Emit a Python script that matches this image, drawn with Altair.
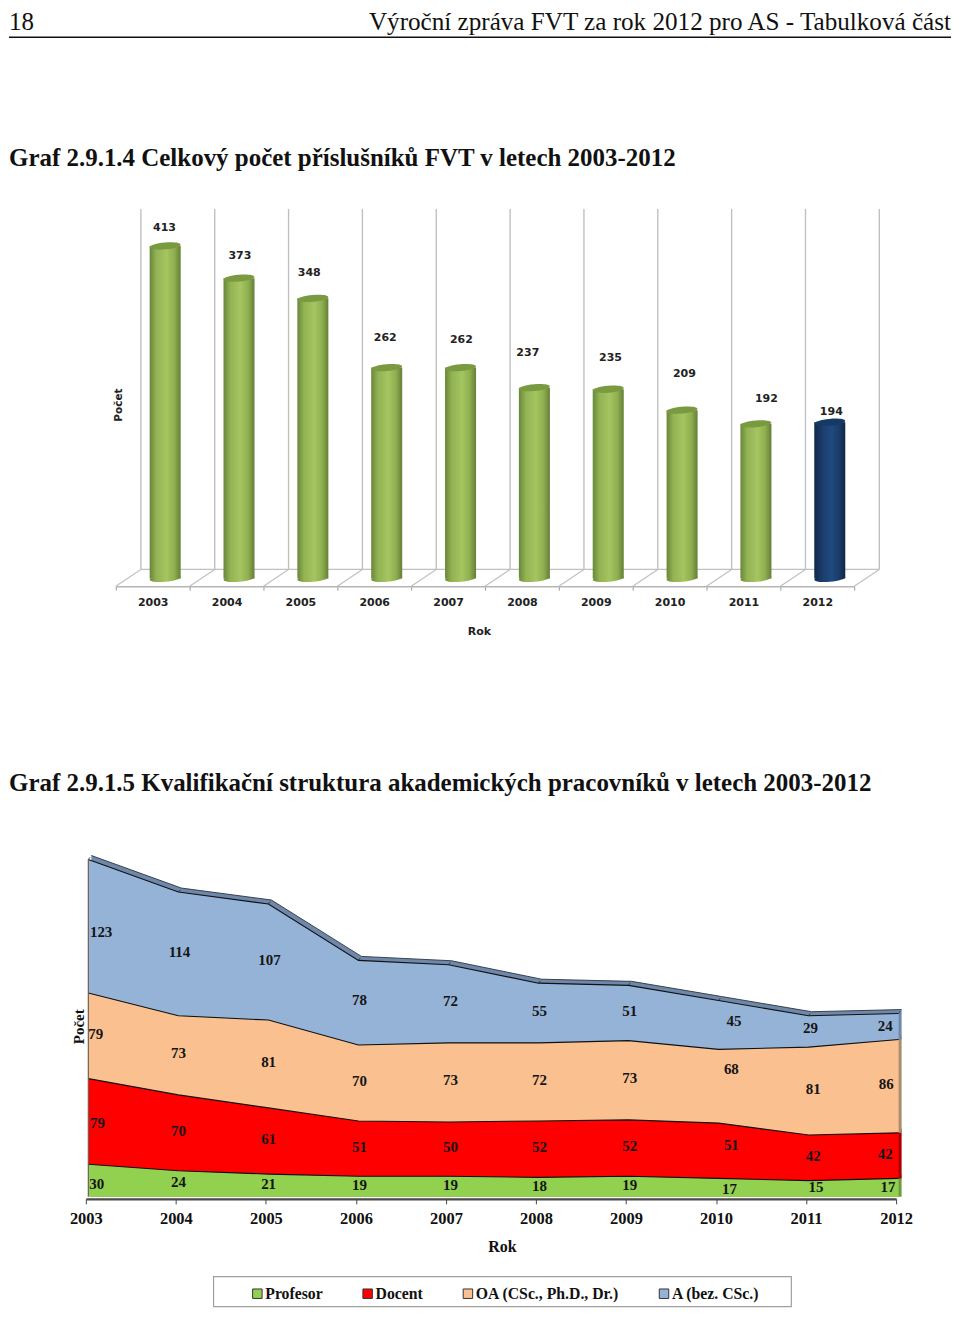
import altair as alt
import pandas as pd

years = [2003, 2004, 2005, 2006, 2007, 2008, 2009, 2010, 2011, 2012]
totals = [413, 373, 348, 262, 262, 237, 235, 209, 192, 194]
total_label_year = [2003.16, 2004.18, 2005.12, 2006.15, 2007.18, 2008.08, 2009.20, 2010.20, 2011.31, 2012.19]
total_label_level = [435, 400.4, 379.3, 298.7, 296.3, 280.1, 274, 254.1, 223.1, 207]
wall_back = [2002.84, 2003.84, 2004.84, 2005.84, 2006.84, 2007.84, 2008.84, 2009.84, 2010.84, 2011.84, 2012.84]
wall_front = [2002.5, 2003.5, 2004.5, 2005.5, 2006.5, 2007.5, 2008.5, 2009.5, 2010.5, 2011.5, 2012.5]

series = ["Profesor", "Docent", "OA (CSc., Ph.D., Dr.)", "A (bez. CSc.)"]
profesor = [30, 24, 21, 19, 19, 18, 19, 17, 15, 17]
docent = [79, 70, 61, 51, 50, 52, 52, 51, 42, 42]
oa = [79, 73, 81, 70, 73, 72, 73, 68, 81, 86]
a_bez = [123, 114, 107, 78, 72, 55, 51, 45, 29, 24]

lab_x_prof = [2003.12, 2004.03, 2005.03, 2006.04, 2007.05, 2008.04, 2009.04, 2010.15, 2011.11, 2011.91]
lab_y_prof = [12.0, 13.8, 12.0, 11.0, 11.0, 10.1, 11.0, 7.4, 9.2, 9.2]
lab_x_doc = [2003.13, 2004.03, 2005.03, 2006.04, 2007.05, 2008.04, 2009.04, 2010.17, 2011.08, 2011.88]
lab_y_doc = [68.1, 60.7, 53.4, 46.0, 46.0, 46.0, 46.9, 47.8, 37.7, 39.6]
lab_x_oa = [2003.11, 2004.03, 2005.03, 2006.04, 2007.05, 2008.04, 2009.04, 2010.17, 2011.08, 2011.89]
lab_y_oa = [150.0, 132.5, 124.2, 106.7, 107.6, 107.6, 109.5, 117.8, 99.4, 104.0]
lab_x_a = [2003.17, 2004.04, 2005.04, 2006.04, 2007.05, 2008.04, 2009.04, 2010.20, 2011.05, 2011.88]
lab_y_a = [243.8, 225.4, 218.0, 181.2, 180.3, 171.1, 171.1, 161.9, 155.5, 157.3]

area_colors = ["#92d050", "#ff0000", "#fac090", "#95b3d7"]
wall_colors = ["#6e9c3c", "#a80000", "#ab8d6c", "#6f88aa"]

PAGE_W = 944
SERIF = "Liberation Serif"
SANS = "DejaVu Sans"

# ---------- header panel ----------
def page_text(txt, x, y, size, bold=False, align="left"):
    return alt.Chart(pd.DataFrame({"t": [txt]})).mark_text(
        font=SERIF, fontSize=size, fontWeight="bold" if bold else "normal",
        align=align, baseline="middle", color="#111111"
    ).encode(text="t:N", x=alt.value(x), y=alt.value(y))

header_rule = alt.Chart(pd.DataFrame({"a": [0]})).mark_rule(color="#111111", strokeWidth=1.6).encode(
    x=alt.value(0), x2=alt.value(944), y=alt.value(28))
header = alt.layer(
    page_text("18", 0, 13, 25),
    page_text("Výroční zpráva FVT za rok 2012 pro AS - Tabulková část", 944, 13, 25.2, align="right"),
    header_rule,
    page_text("Graf 2.9.1.4 Celkový počet příslušníků FVT v letech 2003-2012", 0, 149, 25, bold=True),
).properties(width=PAGE_W, height=200)

# ---------- cylinders ----------
bars = pd.DataFrame({"year": years, "total": totals, "zero": [0] * 10,
                     "cx": [y + 0.169 for y in years],
                     "left": [y + 0.169 - 0.21 for y in years],
                     "right": [y + 0.169 + 0.21 for y in years],
                     "lx": total_label_year, "ly": total_label_level})
walls = pd.DataFrame({"back": wall_back, "front": wall_front})
xq1 = alt.Scale(domain=[2003, 2012], range=[144, 810])
y1 = alt.Scale(domain=[-9.6, 459], nice=False, zero=False)
y1_axis = alt.Axis(title="Počet", labels=False, ticks=False, domain=False, grid=False, titleFont=SANS,
                   titleFontSize=10.5, titleFontWeight="bold", titleColor="#222222", titleX=110, titleY=196,
                   titleAlign="center", titleBaseline="middle")
H1 = 378
FLOOR_BACK = 11.2
CAP = "M-1,0A1,0.22,0,1,1,1,0A1,0.22,0,1,1,-1,0Z"

def grad(stops):
    return alt.LinearGradient(gradient="linear", x1=0, x2=1, y1=0, y2=0,
                              stops=[alt.GradientStop(offset=o, color=c) for o, c in stops])

green = grad([(0, "#68873a"), (0.22, "#93b354"), (0.55, "#a4c560"), (0.8, "#8fae50"), (1, "#637f36")])
navy = grad([(0, "#10294b"), (0.3, "#1c3f6e"), (0.55, "#1f4a80"), (0.8, "#1a3c69"), (1, "#0f2646")])

def cyl(df, fill, cap):
    X = alt.X("cx:Q", scale=xq1, axis=None)
    Y = alt.Y("total:Q", scale=y1, axis=y1_axis)
    Y0 = alt.Y("zero:Q", scale=y1, axis=y1_axis)
    return [
        alt.Chart(df).mark_point(shape=CAP, size=961, filled=True, fill=fill, opacity=1, angle=355).encode(x=X, y=Y0),
        alt.Chart(df).mark_bar(fill=fill).encode(x=alt.X("left:Q", scale=xq1, axis=None), x2="right:Q", y=Y, y2="zero:Q"),
        alt.Chart(df).mark_point(shape=CAP, size=961, filled=True, fill=cap, opacity=1, angle=355).encode(x=X, y=Y),
    ]

carrier = alt.Chart(bars).mark_rule(opacity=0).encode(
    x=alt.X("year:O", scale=alt.Scale(range=[107, 847], paddingInner=0, paddingOuter=0),
            axis=alt.Axis(title="Rok", labelAngle=0, tickBand="extent", domainColor="#b5b5b5", tickColor="#9a9a9a",
                          tickSize=4, labelFont=SANS, labelFontSize=11, labelFontWeight="bold", labelColor="#222222",
                          labelPadding=6, titleFont=SANS, titleFontSize=11, titleFontWeight="bold", titleColor="#222222",
                          titleX=471, titleY=39, domainWidth=1.5)),
    y=alt.Y("total:Q", scale=y1, axis=y1_axis),
)
wall_rules = alt.Chart(walls.assign(top=459, bot=FLOOR_BACK)).mark_rule(color="#c0c0c0", strokeWidth=1.4).encode(
    x=alt.X("back:Q", scale=xq1, axis=None), y=alt.Y("top:Q", scale=y1, axis=y1_axis), y2="bot:Q")
slants = alt.Chart(walls.assign(a=FLOOR_BACK, b=-9.6)).mark_rule(color="#c0c0c0", strokeWidth=1.2).encode(
    x=alt.X("back:Q", scale=xq1, axis=None), x2="front:Q", y=alt.Y("a:Q", scale=y1, axis=y1_axis), y2="b:Q")
back_line = alt.Chart(pd.DataFrame({"a": [wall_back[0]], "b": [wall_back[-1]], "l": [FLOOR_BACK]})).mark_rule(
    color="#c0c0c0", strokeWidth=1.2).encode(
    x=alt.X("a:Q", scale=xq1, axis=None), x2="b:Q", y=alt.Y("l:Q", scale=y1, axis=y1_axis))
total_labels = alt.Chart(bars).mark_text(font=SANS, fontSize=11, fontWeight="bold", color="#222222").encode(
    x=alt.X("lx:Q", scale=xq1, axis=None), y=alt.Y("ly:Q", scale=y1, axis=y1_axis), text="total:Q")

chart1 = alt.layer(
    carrier, wall_rules, slants, back_line,
    *cyl(bars[bars.year < 2012], green, "#7a9a42"),
    *cyl(bars[bars.year == 2012], navy, "#163a66"),
    total_labels,
).resolve_scale(x="independent").properties(width=PAGE_W, height=H1)

# ---------- stacked areas ----------
xq2 = alt.Scale(domain=[2003, 2012], range=[77, 889])
y2s = alt.Scale(domain=[-1.84, 563], nice=False, zero=False)
H2 = 614
rows = []
for i, (s, vals, lx, ly) in enumerate(zip(
        series, [profesor, docent, oa, a_bez],
        [lab_x_prof, lab_x_doc, lab_x_oa, lab_x_a], [lab_y_prof, lab_y_doc, lab_y_oa, lab_y_a])):
    prev = [r["top"] for r in rows if r["i"] == i - 1]
    for k, v in enumerate(vals):
        bottom = prev[k] if prev else 0
        rows.append({"i": i, "series": s, "year": years[k], "value": v, "bottom": bottom,
                     "top": bottom + v, "lx": lx[k], "ly": ly[k]})
df = pd.DataFrame(rows)
x2_axis = alt.Axis(values=years, format="d", title="Rok", grid=False, domainColor="#4a4a4a", domainWidth=2.2,
                   tickColor="#444444", tickSize=5, labelFont=SERIF, labelFontSize=16.5, labelFontWeight="bold",
                   labelColor="#111111", labelPadding=7, titleFont=SERIF, titleFontSize=16,
                   titleFontWeight="bold", titleColor="#111111", titleX=494, titleY=40, labelFlush=False)
y2_axis = alt.Axis(title="Počet", labels=False, ticks=False, domain=False, grid=False, titleFont=SERIF,
                   titleFontSize=15, titleFontWeight="bold", titleColor="#111111", titleX=70, titleY=441,
                   titleAlign="center", titleBaseline="middle")
X2 = alt.X("year:Q", scale=xq2, axis=x2_axis)
Y2 = alt.Y("top:Q", scale=y2s, axis=y2_axis)

wall_layers = [
    alt.Chart(df[df.i == i]).mark_area(color=wall_colors[i], opacity=1, xOffset=5.5, yOffset=-4).encode(
        x=X2, y=Y2, y2="bottom:Q")
    for i in range(4)
]
top_df = df[df.i == 3]
wall_edge = alt.Chart(top_df).mark_line(color="#2b3442", strokeWidth=0.9, xOffset=5.5, yOffset=-4).encode(x=X2, y=Y2)
vertex_marks = alt.Chart(top_df).mark_point(shape="M0,0L1,-1.3", size=12, stroke="#2b3442", strokeWidth=0.9,
                                            opacity=1, xOffset=2.5).encode(x=X2, y=Y2)
main_area = alt.Chart(df).mark_area(opacity=1, xOffset=2.5).encode(
    x=X2, y=Y2, y2="bottom:Q",
    color=alt.Color("series:N", scale=alt.Scale(domain=series, range=area_colors),
                    legend=alt.Legend(title=None, orient="none", legendX=241, legendY=1279, direction="horizontal",
                                      columns=4, columnPadding=36.5, padding=0, symbolType="square", symbolSize=90,
                                      symbolStrokeColor="#333333", symbolStrokeWidth=1, symbolOpacity=1, labelOffset=0,
                                      labelFont=SERIF, labelFontSize=15.8, labelFontWeight="bold", labelColor="#111111",
                                      labelLimit=200)),
    detail="series:N",
)
edges = alt.Chart(df).mark_line(color="#111111", strokeWidth=1.1, xOffset=2.5).encode(x=X2, y=Y2, detail="series:N")
left_edge = alt.Chart(df[(df.year == 2003) & (df.i == 3)]).mark_rule(color="#6a5f55", strokeWidth=1.2, xOffset=2.5).encode(
    x=X2, y=Y2, y2=alt.datum(0))
value_labels = alt.Chart(df).mark_text(font=SERIF, fontSize=15, fontWeight="bold", color="#151515").encode(
    x=alt.X("lx:Q", scale=xq2, axis=x2_axis), y=alt.Y("ly:Q", scale=y2s, axis=y2_axis), text="value:Q")

box = alt.Chart(pd.DataFrame({"a": [0]})).mark_rect(fill="white", stroke="#a0a0a0", strokeWidth=1.2).encode(
    x=alt.value(205), x2=alt.value(784), y=alt.value(692), y2=alt.value(722))
title2 = page_text("Graf 2.9.1.5 Kvalifikační struktura akademických pracovníků v letech 2003-2012", 0, 197, 25, bold=True)

chart2 = alt.layer(
    title2, box, *wall_layers, wall_edge, vertex_marks, main_area, edges, left_edge, value_labels
).properties(width=PAGE_W, height=H2)

chart = alt.vconcat(header, chart1, chart2, spacing=0, bounds="flush",
                    padding=0, background="white").configure_view(
    stroke=None).configure_axis(grid=False)
chart.save("out.html", embed_options={"renderer": "svg", "actions": False})
